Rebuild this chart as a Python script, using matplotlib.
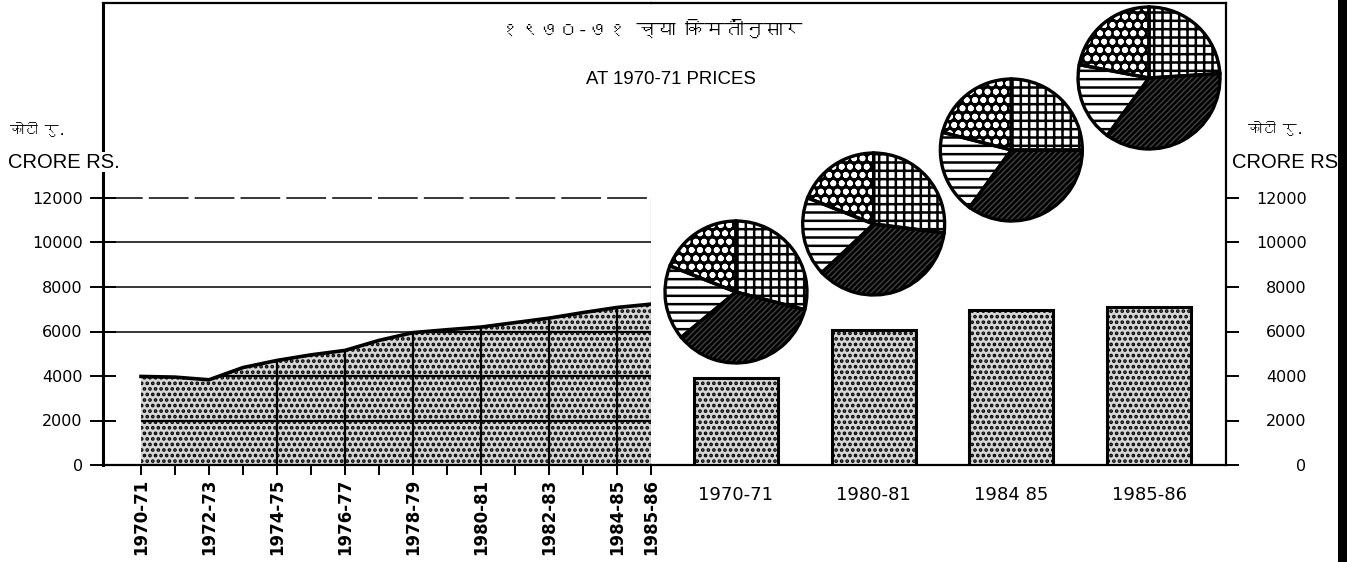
import matplotlib
matplotlib.use("Agg")
import matplotlib.pyplot as plt
from matplotlib import font_manager
from matplotlib.ft2font import FT2Font
from matplotlib.patches import Rectangle

# ---------------- data ----------------
years = ["1970-71", "1971-72", "1972-73", "1973-74", "1974-75", "1975-76",
         "1976-77", "1977-78", "1978-79", "1979-80", "1980-81", "1981-82",
         "1982-83", "1983-84", "1984-85", "1985-86"]
sdp_values = [3980, 3950, 3830, 4380, 4700, 4950, 5150, 5600,
              5950, 6080, 6200, 6400, 6600, 6850, 7080, 7230]
labelled_years = ["1970-71", "1972-73", "1974-75", "1976-77", "1978-79",
                  "1980-81", "1982-83", "1984-85", "1985-86"]
grid_years = ["1974-75", "1976-77", "1978-79", "1980-81", "1982-83", "1984-85"]

bar_years = ["1970-71", "1980-81", "1984 85", "1985-86"]
bar_values = [3900, 6050, 6950, 7100]

# pie shares (%), order: dotted, horizontal lines, dark hatch, grid
pie_1970_71 = [19, 17, 35, 29]
pie_1980_81 = [19, 18, 36, 27]
pie_1984_85 = [21, 19, 35, 25]
pie_1985_86 = [22, 18, 36, 24]
pie_shares = [pie_1970_71, pie_1980_81, pie_1984_85, pie_1985_86]

y_ticks = [0, 2000, 4000, 6000, 8000, 10000, 12000]

title_mr = "१९७०-७१ च्या किमतींनुसार"
title_en = "AT 1970-71 PRICES"
unit_mr = "कोटी रु."
unit_en_left = "CRORE RS."
unit_en_right = "CRORE RS"

# ---------------- fonts ----------------
def find_font_with(ch):
    for f in font_manager.fontManager.ttflist:
        try:
            if FT2Font(f.fname).get_char_index(ord(ch)):
                return f.name
        except Exception:
            pass
    return None

deva = find_font_with("क")
deva_family = [deva, "DejaVu Sans"] if deva else ["DejaVu Sans"]

plt.rcParams["hatch.linewidth"] = 1.8
plt.rcParams["hatch.color"] = "black"

# ---------------- layout (pixels) ----------------
W, H = 1350, 562
fig = plt.figure(figsize=(W / 100, H / 100), dpi=100)
fig.patch.set_facecolor("white")

def fx(px):
    return px / W

def fy(py):
    return 1 - py / H

x_left, x_mid, x_right = 103, 651, 1226
y_base, y_top, y_12k = 465, 3, 198
ymax = y_ticks[-1] * (y_base - y_top) / (y_base - y_12k)

ax1 = fig.add_axes([fx(x_left), fy(y_base), (x_mid - x_left) / W, (y_base - y_top) / H])
ax2 = fig.add_axes([fx(x_mid), fy(y_base), (x_right - x_mid) / W, (y_base - y_top) / H])

for ax in (ax1, ax2):
    ax.set_ylim(0, ymax)
    ax.set_facecolor("none")

stipple_face = "#d6d6d6"

# ---------------- area chart ----------------
xi = list(range(len(years)))
ax1.set_xlim(-(141 - x_left) / 34, len(years) - 1)

for v in y_ticks[3:]:
    ls = (0, (26, 4)) if v == y_ticks[-1] else "-"
    ax1.axhline(v, color="black", lw=1.1, ls=ls, zorder=1)

area = ax1.fill_between(xi, sdp_values, 0, facecolor=stipple_face, hatch="...",
                        edgecolor="none", lw=0, zorder=2)
ax1.plot(xi, sdp_values, color="black", lw=2.6, zorder=4)

clip_path = area.get_paths()[0]
hl = ax1.hlines(y_ticks[1:4], xi[0], xi[-1], color="black", lw=1.6, zorder=3)
hl.set_clip_path(clip_path, ax1.transData)
gx = [years.index(y) for y in grid_years]
ax1.vlines(gx, 0, [sdp_values[i] for i in gx], color="black", lw=1.6, zorder=3)
ax1.vlines(xi[-1], 0, y_ticks[-1], color="black", lw=0.8, zorder=3)

ax1.set_xticks(xi)
ax1.set_xticklabels([y if y in labelled_years else "" for y in years],
                    rotation=90, fontsize=12, fontweight="bold",
                    family="DejaVu Sans")
ax1.tick_params(axis="x", direction="out", length=7, width=1.4, pad=3)

ax1.set_yticks(y_ticks)
ax1.set_yticklabels([str(v) for v in y_ticks], fontsize=11.5, family="DejaVu Sans")
ax1.tick_params(axis="y", direction="inout", length=19, width=1.4, pad=5)

ax1.spines["right"].set_visible(False)
ax1.spines["left"].set_linewidth(2.2)
ax1.spines["top"].set_linewidth(1.6)
ax1.spines["bottom"].set_linewidth(1.6)

# ---------------- bar chart ----------------
bx = list(range(len(bar_years)))
spacing = 137.7
ax2.set_xlim(-(736 - x_mid) / spacing, len(bar_years) - 1 + (x_right - 1149) / spacing)
ax2.bar(bx, bar_values, width=0.61, facecolor=stipple_face, hatch="...",
        edgecolor="black", lw=2.2, zorder=3)
ax2.set_xticks(bx)
ax2.set_xticklabels(bar_years, fontsize=13, family="DejaVu Sans")
ax2.tick_params(axis="x", length=0, pad=15)

ax2.yaxis.tick_right()
ax2.set_yticks(y_ticks)
ax2.set_yticklabels([str(v) for v in y_ticks], fontsize=11.5, family="DejaVu Sans")
ax2.tick_params(axis="y", direction="out", length=9, width=1.4, pad=49)
for t in ax2.get_yticklabels():
    t.set_horizontalalignment("right")

ax2.spines["left"].set_visible(False)
ax2.spines["right"].set_linewidth(1.6)
ax2.spines["top"].set_linewidth(1.6)
ax2.spines["bottom"].set_linewidth(1.6)

# ---------------- pies ----------------
pie_center_levels = [7775, 10831, 14157, 17393]
pie_radius_px = 71
patterns = [("black", "white", "oo"),
            ("white", "black", "--"),
            ("#404040", "black", "//////"),
            ("white", "black", "++")]

for i, shares in enumerate(pie_shares):
    cx, cy = ax2.transData.transform((bx[i], pie_center_levels[i]))
    cy_px = H - cy
    r = pie_radius_px + 3
    pax = fig.add_axes([fx(cx - r), fy(cy_px + r), 2 * r / W, 2 * r / H])
    wedges, _ = pax.pie(shares, startangle=90, counterclock=True,
                        radius=pie_radius_px / r)
    for w, (fc, hc, hatch) in zip(wedges, patterns):
        w.set_facecolor(fc)
        w.set_edgecolor(hc)
        w.set_hatch(hatch)
        w.set_linewidth(0)
    pax.pie(shares, startangle=90, counterclock=True, radius=pie_radius_px / r,
            wedgeprops=dict(fill=False, edgecolor="black", linewidth=2.4))
    pax.set_xlim(-1, 1)
    pax.set_ylim(-1, 1)
    pax.set_aspect("equal")
    pax.axis("off")

# ---------------- texts ----------------
fig.text(fx(651), fy(28), title_mr, ha="center", va="center", fontsize=14,
         family=deva_family)
fig.text(fx(671), fy(80), title_en, ha="center", va="center", fontsize=13.4,
         family="Liberation Sans")
fig.text(fx(38), fy(129), unit_mr, ha="center", va="center", fontsize=10,
         family=deva_family, fontweight="bold")
fig.text(fx(64), fy(162), unit_en_left, ha="center", va="center", fontsize=14.5,
         family="Liberation Sans", zorder=10,
         bbox=dict(facecolor="white", edgecolor="none", pad=0.5))
fig.text(fx(1276), fy(128), unit_mr, ha="center", va="center", fontsize=10,
         family=deva_family, fontweight="bold")
fig.text(fx(1232), fy(162), unit_en_right, ha="left", va="center", fontsize=14.5,
         family="Liberation Sans")

fig.add_artist(Rectangle((fx(1338), 0), 9 / W, 1, transform=fig.transFigure,
                         facecolor="black", edgecolor="none"))

fig.savefig("out.png", dpi=100)
